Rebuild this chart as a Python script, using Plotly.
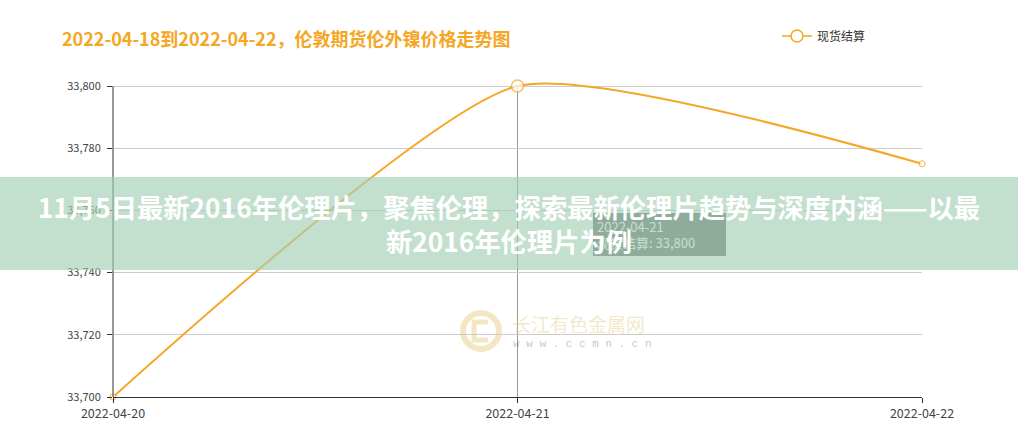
import plotly.graph_objects as go

# ---- data ----
dates = ["2022-04-20", "2022-04-21", "2022-04-22"]
settle = [33700, 33800, 33775]
series_name = "现货结算"
title_text = "2022-04-18到2022-04-22，伦敦期货伦外镍价格走势图"
y_ticks = [33700, 33720, 33740, 33760, 33780, 33800]
banner_line1 = "11月5日最新2016年伦理片，聚焦伦理，探索最新伦理片趋势与深度内涵——以最"
banner_line2 = "新2016年伦理片为例"
hover_index = 1
watermark_cn = "长江有色金属网"
watermark_url = "w w w . c c m n . c n"

ORANGE = "#f5a623"
FONT = "Noto Sans CJK SC, Noto Sans, sans-serif"

W, H = 1018, 447
# visible value box (33700..33800) spans these pixels
BOX_TOP, BOX_BOTTOM = 86, 397
# plotting area extended a little above the top gridline so the smooth curve is not clipped
L, R, T, B = 113, 96, 66, H - BOX_BOTTOM
PW, PH = W - L - R, H - T - B
units_per_px = (y_ticks[-1] - y_ticks[0]) / (BOX_BOTTOM - BOX_TOP)
y_top = y_ticks[-1] + (BOX_TOP - T) * units_per_px


def px_x(x):
    return (x - L) / PW


def px_y(y):
    return (H - B - y) / PH


fig = go.Figure()

# main series
fig.add_trace(go.Scatter(
    x=dates, y=settle, mode="lines+markers", name=series_name,
    line=dict(color=ORANGE, width=2, shape="spline", smoothing=0.55),
    marker=dict(symbol="circle", color="white",
                size=[6 if i != hover_index else 12 for i in range(len(dates))],
                line=dict(color=ORANGE, width=[1.2 if i != hover_index else 1.5 for i in range(len(dates))])),
    cliponaxis=False, showlegend=False, hoverinfo="skip",
))
# legend entry
fig.add_trace(go.Scatter(
    x=[None], y=[None], mode="lines+markers", name=series_name,
    line=dict(color=ORANGE, width=1.5),
    marker=dict(symbol="circle", color="white", size=12, line=dict(color=ORANGE, width=1.5)),
    showlegend=True,
))

shapes = [
    # left axis line (only over the value range)
    dict(type="line", xref="paper", yref="y", x0=0, x1=0, y0=y_ticks[0], y1=y_ticks[-1],
         line=dict(color="#333333", width=1), layer="above"),
    # axis pointer (hover crosshair)
    dict(type="line", xref="x", yref="y", x0=dates[hover_index], x1=dates[hover_index],
         y0=y_ticks[0], y1=y_ticks[-1], line=dict(color="#999999", width=1), layer="below"),
    # watermark logo ring
    dict(type="circle", xref="paper", yref="paper",
         x0=px_x(463), x1=px_x(499), y0=px_y(349), y1=px_y(313),
         line=dict(color="rgba(228,200,120,0.45)", width=6), layer="above"),
    # watermark logo inner bracket
    dict(type="path", xref="paper", yref="paper",
         path=(f"M {px_x(488)},{px_y(322)} L {px_x(474)},{px_y(322)} L {px_x(474)},{px_y(340)} "
               f"L {px_x(488)},{px_y(340)}"),
         line=dict(color="rgba(228,200,120,0.45)", width=5), layer="above"),
]

annotations = [
    dict(x=px_x(510), y=px_y(323), xref="paper", yref="paper", xanchor="left", yanchor="middle",
         text=watermark_cn, showarrow=False,
         font=dict(family=FONT, size=19, color="rgba(225,195,120,0.4)")),
    dict(x=px_x(511), y=px_y(344), xref="paper", yref="paper", xanchor="left", yanchor="middle",
         text=watermark_url, showarrow=False,
         font=dict(family="Liberation Mono, monospace", size=11, color="rgba(110,110,110,0.4)")),
    # tooltip
    dict(x=px_x(593), y=px_y(213), xref="paper", yref="paper", xanchor="left", yanchor="top",
         text=f"{dates[hover_index]}<br>{series_name}: {settle[hover_index]:,}",
         showarrow=False, align="left", width=125, height=35, borderpad=4,
         bgcolor="rgba(50,50,50,0.7)", bordercolor="rgba(0,0,0,0)", borderwidth=0,
         font=dict(family=FONT, size=13, color="white")),
    # banner overlay
    dict(x=px_x(509), y=px_y(223.5), xref="paper", yref="paper", xanchor="center", yanchor="middle",
         text=f"<b>{banner_line1}</b><br><b>{banner_line2}</b>",
         showarrow=False, align="center", width=W + 4, height=93, borderpad=0, borderwidth=0,
         bgcolor="rgba(161,206,180,0.64)",
         font=dict(family=FONT, size=26.3, color="white")),
]

fig.update_layout(
    width=W, height=H, autosize=False,
    margin=dict(l=L, r=R, t=T, b=B),
    paper_bgcolor="white", plot_bgcolor="white",
    font=dict(family=FONT, color="#333333"),
    title=dict(text=title_text, x=62 / W, xanchor="left", xref="container",
               y=1 - 40 / H, yanchor="middle", yref="container",
               font=dict(family=FONT, size=18, color=ORANGE, weight="bold")),
    legend=dict(orientation="h", x=px_x(777), y=px_y(36), xanchor="left", yanchor="middle",
                font=dict(family=FONT, size=12, color="#333333"), bgcolor="rgba(0,0,0,0)"),
    xaxis=dict(type="category", range=[0, len(dates) - 1], showgrid=False, zeroline=False,
               showline=True, linecolor="#333333", linewidth=1,
               ticks="outside", ticklen=5, tickcolor="#333333",
               tickfont=dict(family=FONT, size=12.5, color="#444444")),
    yaxis=dict(range=[y_ticks[0], y_top], tickvals=y_ticks, tickformat=",",
               showgrid=True, gridcolor="#cccccc", gridwidth=1, zeroline=False,
               showline=False, ticks="outside", ticklen=5, tickcolor="#333333",
               ticklabelstandoff=4,
               tickfont=dict(family=FONT, size=11, color="#444444")),
    shapes=shapes,
    annotations=annotations,
    hovermode=False,
)

fig.write_html("out.html", config={"displayModeBar": False},
               post_script="document.body.style.margin='0px';")
